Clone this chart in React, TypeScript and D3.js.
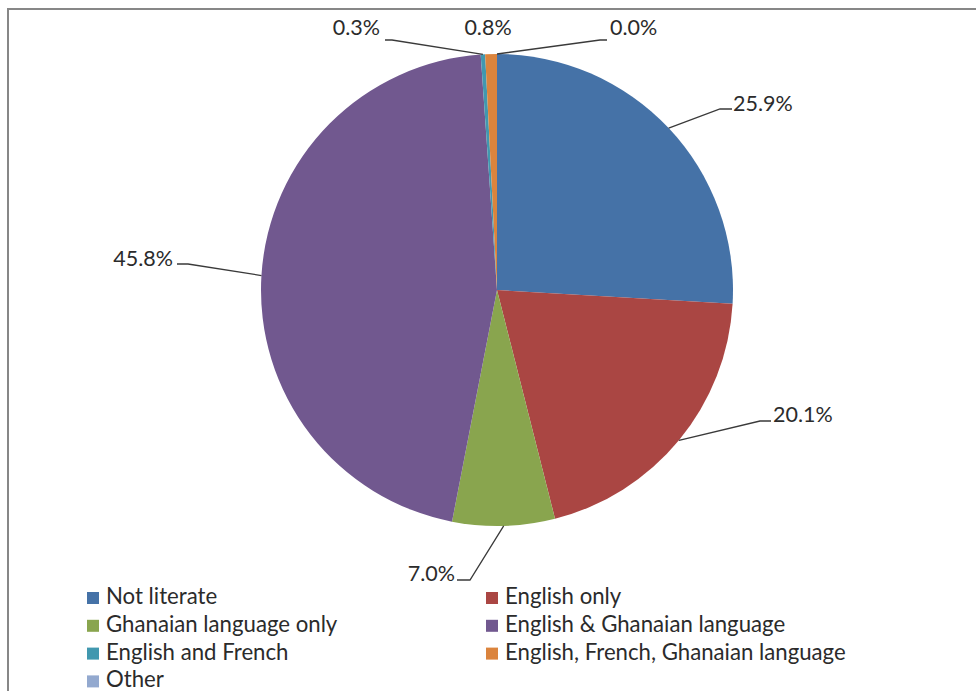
import * as d3 from "d3";

// literacy status shares (%)
const categories = [
  "Not literate",
  "English only",
  "Ghanaian language only",
  "English & Ghanaian language",
  "English and French",
  "English, French, Ghanaian language",
  "Other",
];
const values = [25.9, 20.1, 7.0, 45.8, 0.3, 0.8, 0.0];
const colors = ["#4572A7", "#AA4643", "#89A54E", "#71588F", "#4198AF", "#DB843D", "#93A9CF"];

// label placement relative to the pie centre: elbow, line end, text anchor point
const labelLayout: { elbow: [number, number] | null; end: [number, number] | null; text: [number, number]; anchor: string }[] = [
  { elbow: [223, -181], end: [235, -181], text: [236, -179], anchor: "start" },
  { elbow: [263, 131], end: [274, 131], text: [276, 132], anchor: "start" },
  { elbow: [-27, 290], end: [-40, 290], text: [-42, 291], anchor: "end" },
  { elbow: [-309, -26], end: [-320, -26], text: [-324, -24], anchor: "end" },
  { elbow: [-105, -250], end: [-112, -250], text: [-117, -255], anchor: "end" },
  { elbow: null, end: null, text: [-9, -255], anchor: "middle" },
  { elbow: [103, -250], end: [110, -250], text: [113, -255], anchor: "start" },
];

const W = 976;
const H = 691;
const FONT = "Lato, 'Open Sans', sans-serif";

export default function App() {
  const cx = 497;
  const cy = 290;
  const R = 236;

  const pie = d3
    .pie<number>()
    .sort(null)
    .value((d) => d);
  const arcs = pie(values);
  const arc = d3.arc<d3.PieArcDatum<number>>().innerRadius(0).outerRadius(R);

  const legendCols = [87, 486];
  const legendRow0 = 604;
  const rowH = 27.8;

  return (
    <svg
      width={W}
      height={H}
      style={{ position: "absolute", left: 0, top: 0, background: "#fff" }}
      fontFamily={FONT}
    >
      <rect x={8} y={9} width={W + 20} height={H + 20} fill="#fff" stroke="#878787" strokeWidth={2} />
      <g transform={`translate(${cx},${cy})`}>
        {arcs.map((a, i) => (
          <path key={i} d={arc(a) || ""} fill={colors[i]} />
        ))}
        {arcs.map((a, i) => {
          const mid = (a.startAngle + a.endAngle) / 2;
          const sx = R * Math.sin(mid);
          const sy = -R * Math.cos(mid);
          const l = labelLayout[i];
          return (
            <g key={"l" + i}>
              {l.elbow && l.end && (
                <polyline
                  points={`${sx},${sy} ${l.elbow[0]},${l.elbow[1]} ${l.end[0]},${l.end[1]}`}
                  fill="none"
                  stroke="#3a3a3a"
                  strokeWidth={1.3}
                />
              )}
              <text x={l.text[0]} y={l.text[1]} textAnchor={l.anchor} fontSize={21.5} fill="#2b2b2b">
                {d3.format(".1f")(values[i]) + "%"}
              </text>
            </g>
          );
        })}
      </g>
      <g>
        {categories.map((c, i) => {
          const x = legendCols[i % 2];
          const y = legendRow0 + Math.floor(i / 2) * rowH;
          return (
            <g key={c}>
              <rect x={x} y={y - 12} width={12} height={12} fill={colors[i]} />
              <text x={x + 19} y={y} fontSize={22.2} fill="#2b2b2b">
                {c}
              </text>
            </g>
          );
        })}
      </g>
    </svg>
  );
}
